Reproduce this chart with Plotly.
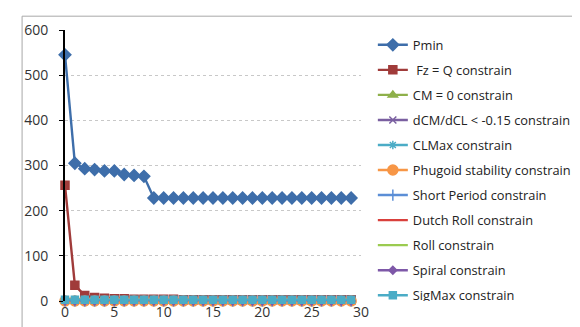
import plotly.graph_objects as go

x_vals = list(range(30))
pmin = [545, 305, 293, 291, 288, 288, 280, 278, 276] + [228] * 21
fz = [256, 35, 12, 8, 6, 5, 5, 4, 4, 4, 4, 4, 3, 3, 3, 3, 3, 3, 3, 3, 3, 3, 3, 3, 3, 3, 3, 3, 3, 3]
zeros = [0] * 30
sigmax = [3] * 30

series = [
    ("Pmin", pmin, "#3E6EAA", "diamond", 9, "lines+markers"),
    (" Fz = Q constrain", fz, "#A03B3A", "square", 8, "lines+markers"),
    ("CM = 0 constrain", zeros, "#8EB04A", "triangle-up", 8, "lines+markers"),
    ("dCM/dCL < -0.15 constrain", zeros, "#7A5FA0", "x-thin", 7, "lines+markers"),
    ("CLMax constrain", zeros, "#4BACC6", "asterisk", 7, "lines+markers"),
    ("Phugoid stability constrain", zeros, "#F79646", "circle", 10, "lines+markers"),
    ("Short Period constrain", zeros, "#5B8ED6", "line-ns", 8, "lines+markers"),
    ("Dutch Roll constrain", zeros, "#D9403C", "circle", 1, "lines"),
    ("Roll constrain", zeros, "#9BCB50", "circle", 1, "lines"),
    ("Spiral constrain", zeros, "#7E58A8", "diamond", 6, "lines+markers"),
    ("SigMax constrain", sigmax, "#4BACC6", "square", 7, "lines+markers"),
]

fig = go.Figure()
for i, (name, vals, color, sym, size, mode) in enumerate(series):
    fig.add_trace(go.Scatter(
        x=x_vals, y=vals, name=name, mode=mode,
        line=dict(color=color, width=2.4),
        marker=dict(symbol=sym, size=size, color=color,
                    line=dict(color=color, width=1.5)),
        legendgroup=f"g{i}", cliponaxis=False,
    ))

fig.update_layout(
    width=580, height=327,
    margin=dict(l=57, r=220, t=19, b=34),
    paper_bgcolor="white", plot_bgcolor="white",
    font=dict(family="Open Sans, Liberation Sans, sans-serif", size=13, color="#333333"),
    showlegend=True,
    legend=dict(x=1.04, y=1.0, xanchor="left", yanchor="top",
                traceorder="grouped", tracegroupgap=5.4,
                font=dict(size=12.8, color="#222222"),
                bgcolor="rgba(0,0,0,0)", itemwidth=30),
    xaxis=dict(range=[0, 30], tickvals=[0, 5, 10, 15, 20, 25, 30],
               showgrid=False, zeroline=False, showline=False,
               ticks="", tickfont=dict(size=14), ticklabelstandoff=1),
    yaxis=dict(range=[0, 600], tickvals=[0, 100, 200, 300, 400, 500, 600],
               showgrid=True, gridcolor="#C8C8C8", griddash="dot", gridwidth=1,
               zeroline=False, showline=True, linecolor="black", linewidth=2,
               ticks="outside", ticklen=4, tickcolor="black", tickwidth=1,
               tickfont=dict(size=14), ticklabelstandoff=8),
    shapes=[dict(type="rect", xref="paper", yref="paper",
                 x0=-0.145, x1=1.716, y0=-0.14, y1=1.051,
                 line=dict(color="#A8A8A8", width=1), layer="below")],
)

fig.write_html("out.html")
